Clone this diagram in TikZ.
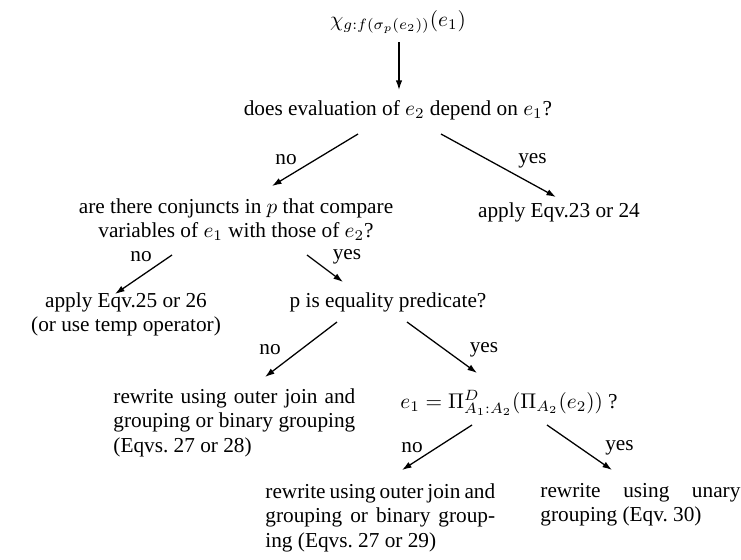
\documentclass[tikz,border=0pt]{standalone}
\usepackage[no-math]{fontspec}
\setmainfont{Liberation Serif}
\usetikzlibrary{calc}
\usetikzlibrary{arrows.meta}
\tikzset{arr/.style={semithick,-{Latex[length=4.5pt,width=3pt]}}}
\tikzset{lbl/.style={inner sep=0pt}}
\tikzset{para/.style={inner sep=0pt, anchor=north west, align=justify,
	font=\fontsize{10}{11.5}\selectfont}}

\begin{document}
\begin{tikzpicture}[x=0.47pt, y=-0.47pt, every node/.style={font=\fontsize{10}{11.5}\selectfont, inner sep=0pt}]
		\useasboundingbox (0,0) rectangle (741,559);
		% Top
		\node[anchor=base] (top) at (398,26) {$\chi_{g:f(\sigma_p(e_2))}(e_1)$};
		\node[anchor=base] (q0) at (398,115) {does evaluation of $e_2$ depend on $e_1$?};
		\draw[arr] ($(top.base)+(1,16)$) -- ($(q0.base)+(1,-25)$);

		% First split
		\node[anchor=north, align=center] (q1) at (236,198)
			{are there conjuncts in $p$ that compare\\variables of $e_1$ with those of $e_2$?};
		\node[anchor=base] (r1) at (559,217) {apply Eqv.23 or 24};
		\draw[arr] ($(q0.base)+(-40,19)$) -- node[lbl, shift={(-29,0)}] {no} ($(q1.north)+(36,-12)$);
		\draw[arr] ($(q0.base)+(43,19)$) -- node[lbl, shift={(34,-5)}] {yes} ($(r1.base)+(-3,-20)$);

		% Second split
		\node[anchor=north, align=center] (r2) at (126,292)
			{apply Eqv.25 or 26\\(or use temp operator)};
		\node[anchor=base] (q2) at (388,307) {p is equality predicate?};
		\draw[arr] ($(q1.north)+(-64,57)$) -- node[lbl, pos=0, shift={(-31,2)}] {no} ($(r2.north)+(-11,2)$);
		\draw[arr] ($(q1.north)+(71,57)$) -- node[lbl, pos=0, shift={(40,2)}] {yes} ($(q2.base)+(-45,-25)$);

		% Third split
		\node[para, text width=113.7pt] (r3) at (113,388)
			{rewrite using outer join and grouping or binary grouping (Eqvs.~27 or 28)};
		\node[anchor=base] (q3) at (509,408) {$e_1 = \Pi^D_{A_1:A_2}(\Pi_{A_2}(e_2))$ ?};
		\draw[arr] ($(q2.base)+(-51,15)$) -- node[lbl, shift={(-31,0)}] {no} ($(r3.north west)+(152,-11)$);
		\draw[arr] ($(q2.base)+(19,15)$) -- node[lbl, shift={(42,2)}] {yes} ($(q3.base)+(-32,-35)$);

		% Bottom
		\node[para, text width=108pt] (r4) at (265,483)
			{rewrite using outer join and grouping or binary group\-ing (Eqvs.~27 or 29)};
		\node[para, text width=94pt] (r5) at (540,483)
			{rewrite using unary grouping (Eqv.~30)};
		\draw[arr] ($(q3.base)+(-37,17)$) -- node[lbl, shift={(-25,0)}] {no} ($(r4.north west)+(137,-13)$);
		\draw[arr] ($(q3.base)+(38,17)$) -- node[lbl, shift={(40,0)}] {yes} ($(r5.north west)+(72,-13)$);
	\end{tikzpicture}
\end{document}
